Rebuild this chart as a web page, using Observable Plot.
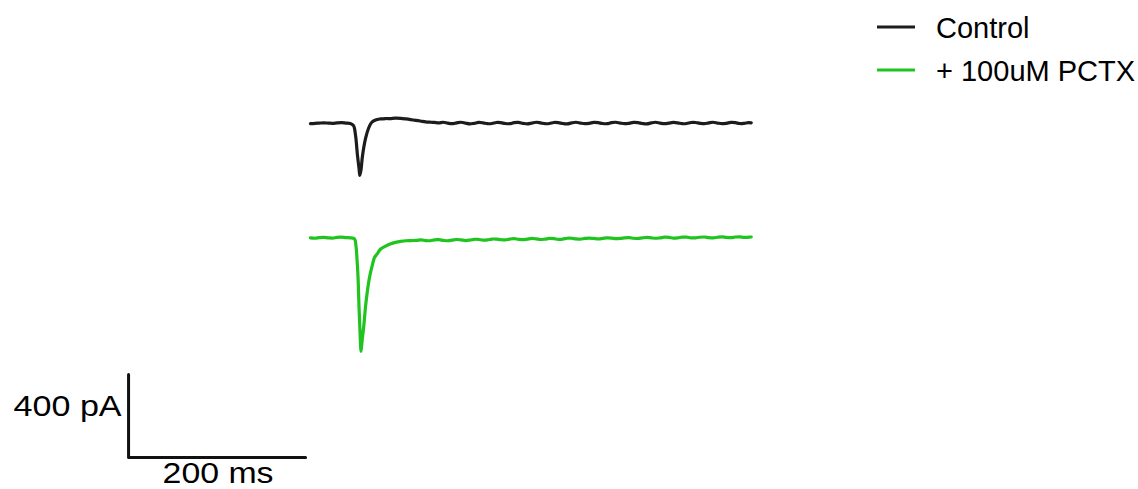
<!DOCTYPE html>
<html>
<head>
<meta charset="utf-8">
<script src="https://cdn.jsdelivr.net/npm/d3@7"></script>
<script src="https://cdn.jsdelivr.net/npm/@observablehq/plot@0.6"></script>
<style>
  html, body { margin: 0; padding: 0; background: #fff; }
  #chart { width: 1138px; height: 489px; overflow: hidden; }
</style>
</head>
<body>
<div id="chart"></div>
<script>
// ---- data (time in ms, current in pA relative to each trace's baseline) ----
const seriesNames = ["Control", "+ 100uM PCTX"];
const seriesColors = ["#1c1c1c", "#1fc41f"];

const controlTime = [0,5,10,15,20,25,30,35,40,45,48.6,50.9,53.1,54.8,55.7,57,58.8,62.2,65.5,69,73.5,79,85,90,96,102,108,113,119,124,130,136,
  140,145,150,155,160,165,170,175,180,185,190,195,200,205,210,215,220,225,230,235,240,245,250,255,260,265,270,275,280,285,290,295,300,305,310,315,320,325,330,335,340,345,350,355,360,365,370,375,380,385,390,395,400,405,410,415,420,425,430,435,440,445,450,455,460,465,470,475,480,485,490,495,498];
const controlCurrent = [-1,1,2,3,2,1,3,4,2,0,-10,-58,-155,-215,-250,-225,-154,-72,-24,5,17,22,24,24,26,25,22,19,15,12,8,6,
  5,3,6,2,-1,3,6,2,-2,1,5,3,-1,0,5,4,0,-1,4,5,1,-2,2,6,3,-1,0,5,4,0,-2,3,6,2,-1,1,5,4,0,-1,4,6,2,-1,1,5,4,0,-2,3,6,2,-1,2,5,3,-1,0,5,5,1,-1,3,6,2,-1,1,5,4,0,1,4,3];

const pctxTime = [0,5,10,15,20,25,30,35,40,45,49.7,51.4,52.5,53.7,54.8,55.9,57.1,58.2,60.2,62.2,64.1,66.7,69.7,72.3,75.4,79,84.8,90,96,102,108,114,
  120,125,130,135,140,145,150,155,160,165,170,175,180,185,190,195,200,205,210,215,220,225,230,235,240,245,250,255,260,265,270,275,280,285,290,295,300,305,310,315,320,325,330,335,340,345,350,355,360,365,370,375,380,385,390,395,400,405,410,415,420,425,430,435,440,445,450,455,460,465,470,475,480,485,490,495,498];
const pctxCurrent = [0,-2,1,2,0,-1,2,3,1,0,-5,-40,-100,-190,-330,-450,-547,-500,-425,-330,-262,-190,-134,-95,-77,-55,-40,-30,-22,-17,-14,-13,
  -12,-10,-13,-14,-10,-9,-12,-14,-11,-8,-10,-13,-11,-7,-8,-11,-10,-6,-6,-9,-10,-6,-4,-7,-9,-6,-3,-5,-8,-6,-3,-4,-7,-6,-2,-2,-5,-6,-3,-1,-3,-5,-3,0,-1,-4,-3,0,1,-2,-3,0,2,0,-2,0,3,2,-1,0,3,3,0,0,3,4,1,0,3,5,2,1,4,5,2,3,4];

const scaleBarMs = 200;
const scaleBarPA = 400;
const scaleBarLabels = ["200 ms", "400 pA"];

// ---- layout (positions in data units) ----
const pctxOffset = -551;          // vertical stacking of the second trace
const barOrigin = {t: -205.6, v: -1609.6};

const control = controlTime.map((t, i) => ({t, v: controlCurrent[i]}));
const pctx = pctxTime.map((t, i) => ({t, v: pctxCurrent[i] + pctxOffset}));
const bar = [
  {t: barOrigin.t, v: barOrigin.v + scaleBarPA},
  {t: barOrigin.t, v: barOrigin.v},
  {t: barOrigin.t + scaleBarMs, v: barOrigin.v}
];

const font = "'Liberation Sans', Arial, Helvetica, sans-serif";

const plot = Plot.plot({
  width: 1138,
  height: 489,
  margin: 0,
  x: {domain: [-350.3, 935.6], axis: null},
  y: {domain: [-1763.8, 592.8], axis: null},
  style: {background: "#fff", fontFamily: font},
  marks: [
    Plot.line(control, {x: "t", y: "v", stroke: seriesColors[0], strokeWidth: 3.2, curve: "catmull-rom"}),
    Plot.line(pctx, {x: "t", y: "v", stroke: seriesColors[1], strokeWidth: 3.2, curve: "catmull-rom"}),
    Plot.line(bar, {x: "t", y: "v", stroke: "#111", strokeWidth: 3}),
    Plot.text([scaleBarLabels[1]], {
      x: barOrigin.t, y: barOrigin.v + scaleBarPA * 0.5,
      text: d => d, textAnchor: "end", lineAnchor: "middle", dx: -7, dy: -9.5, fontSize: 29.5, fill: "#000"
    }),
    Plot.text([scaleBarLabels[0]], {
      x: barOrigin.t + scaleBarMs / 2, y: barOrigin.v,
      text: d => d, lineAnchor: "middle", dx: 1, dy: 16, fontSize: 29, fill: "#000"
    })
  ]
});

const svg = d3.select(plot);
// the scale-bar labels in the reference are drawn horizontally wider than the font's natural width
svg.selectAll("text").each(function() {
  const t = d3.select(this);
  const s = t.text();
  if (s === scaleBarLabels[1]) t.attr("textLength", 108).attr("lengthAdjust", "spacingAndGlyphs");
  if (s === scaleBarLabels[0]) t.attr("textLength", 111).attr("lengthAdjust", "spacingAndGlyphs");
});

// legend (line swatches) drawn inside the same SVG
const legend = svg.append("g").attr("font-family", font).attr("text-anchor", "start");
seriesNames.forEach((name, i) => {
  const ly = 27 + i * 43;
  legend.append("line")
    .attr("x1", 877).attr("x2", 915).attr("y1", ly).attr("y2", ly)
    .attr("stroke", seriesColors[i]).attr("stroke-width", 3);
  legend.append("text")
    .attr("x", 936).attr("y", 37.5 + i * 43.5)
    .attr("font-size", 29).attr("fill", "#000")
    .text(name);
});

document.getElementById("chart").appendChild(plot);
</script>
</body>
</html>
